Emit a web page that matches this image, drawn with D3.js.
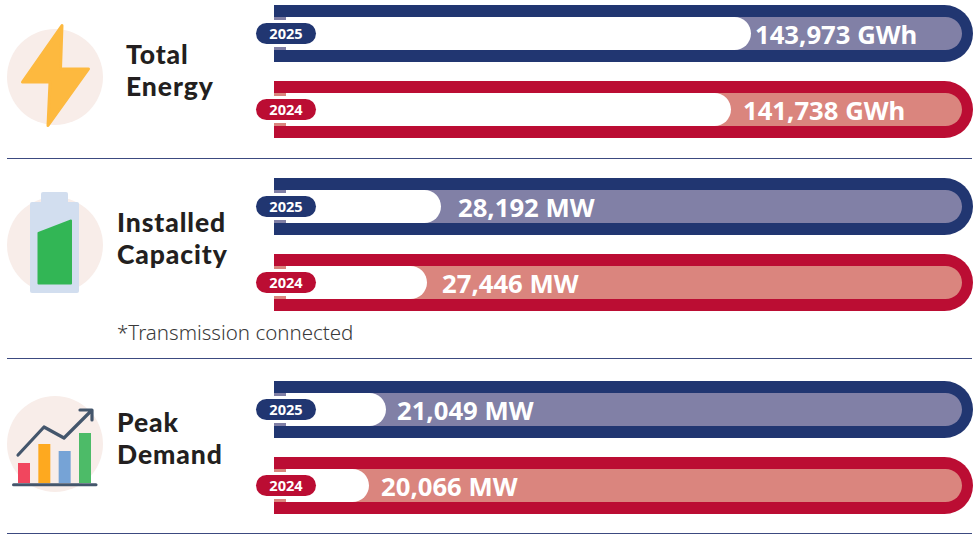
<!DOCTYPE html>
<html>
<head>
<meta charset="utf-8">
<style>
  html, body { margin: 0; padding: 0; background: #fff; }
  svg { display: block; font-family: "Noto Sans", sans-serif; }
</style>
<script src="https://cdn.jsdelivr.net/npm/d3@7"></script>
</head>
<body>
<svg id="chart" width="980" height="534"></svg>
<script>
const panels = ["Total Energy", "Installed Capacity", "Peak Demand"];
const titleLines = [["Total", "Energy"], ["Installed", "Capacity"], ["Peak", "Demand"]];
const years = ["2025", "2024"];
const units = ["GWh", "MW", "MW"];
const values2025 = [143973, 28192, 21049];
const values2024 = [141738, 27446, 20066];
// the bars in the original do not start at zero, each panel has its own window
const baselines = [90670, 19290, 14570];
const axisMax = [168782, 56551, 55006];
const footnote = "*Transmission connected";
const iconBars = [20, 39, 32, 50];

const NAVY = "#213671", RED = "#bb0d33";
const NAVY_SOFT = "#8180a6", RED_SOFT = "#da857e";

const svg = d3.select("#chart");
const trackLeft = 274, trackRight = 973, trackH = 57, border = 12, borderRight = 11;

const panelTop = d3.scaleOrdinal().domain(panels).range([5, 178, 381]);
const rowY = d3.scalePoint().domain(years).range([0, 76]);
const dividers = [158, 358, 533];
const iconCy = [77, 245, 444];
const titleX = [126, 117, 117];
const titleY = [64, 232, 432];
const labelGap = [[4, 12], [17, 15], [11, 12]];

function rowHead(g, colour, soft, year) {
  // tabs either side of the year pill
  g.append("rect").attr("x", trackLeft).attr("y", border).attr("width", border).attr("height", 3).attr("fill", soft);
  g.append("rect").attr("x", trackLeft).attr("y", trackH - border - 3).attr("width", border).attr("height", 3).attr("fill", soft);
  g.append("rect").attr("x", 256).attr("y", trackH / 2 - 10.5).attr("width", 60).attr("height", 21).attr("rx", 10.5)
    .attr("fill", colour);
  g.append("text").attr("x", 286).attr("y", trackH / 2 + 5.3).attr("text-anchor", "middle")
    .attr("fill", "#fff").attr("font-size", 14.6).attr("font-weight", 700).text(year);
}

function track(g, colour, soft, endX) {
  const r = trackH / 2, ir = r - border;
  const innerEnd = trackRight - borderRight;
  // outer band: square at the left, round at the right
  g.append("path").attr("fill", colour)
    .attr("d", `M${trackLeft},0H${trackRight - r}A${r},${r} 0 0 1 ${trackRight - r},${trackH}H${trackLeft}Z`);
  // soft inside
  g.append("path").attr("fill", soft)
    .attr("d", `M${trackLeft},${border}H${innerEnd - ir}A${ir},${ir} 0 0 1 ${innerEnd - ir},${trackH - border}H${trackLeft}Z`);
  // white fill up to the value
  g.append("path").attr("fill", "#fff")
    .attr("d", `M${trackLeft},${border}H${endX - ir}A${ir},${ir} 0 0 1 ${endX - ir},${trackH - border}H${trackLeft}Z`);
}

panels.forEach((panel, i) => {
  const x = d3.scaleLinear().domain([baselines[i], axisMax[i]]).range([trackLeft, trackRight]);

  years.forEach((year, j) => {
    const v = (j === 0 ? values2025 : values2024)[i];
    const colour = j === 0 ? NAVY : RED;
    const soft = j === 0 ? NAVY_SOFT : RED_SOFT;
    const g = svg.append("g").attr("transform", `translate(0,${panelTop(panel) + rowY(year)})`);
    track(g, colour, soft, x(v));
    rowHead(g, colour, soft, year);
    g.append("text").attr("x", x(v) + labelGap[i][j]).attr("y", trackH / 2 + 10.5)
      .attr("fill", "#fff").attr("font-size", 25.7).attr("font-weight", 700)
      .text(`${d3.format(",")(v)} ${units[i]}`);
  });

  const t = svg.append("text").attr("fill", "#231f20").attr("font-size", 26.5).attr("font-weight", 900)
    .attr("letter-spacing", 0.9).style("font-family", "Lato, sans-serif");
  titleLines[i].forEach((line, l) => {
    t.append("tspan").attr("x", titleX[i]).attr("y", titleY[i] + l * 32).text(line);
  });

  svg.append("circle").attr("cx", 55).attr("cy", iconCy[i]).attr("r", 48).attr("fill", "#f8ede9");
});

svg.selectAll("line.divider").data(dividers).enter().append("line")
  .attr("class", "divider")
  .attr("x1", 7).attr("x2", 972).attr("y1", d => d + 0.5).attr("y2", d => d + 0.5)
  .attr("stroke", "#3c4a80").attr("stroke-width", 1);

svg.append("text").attr("x", 117).attr("y", 340).attr("fill", "#3a3a3a")
  .attr("font-size", 20.5).attr("font-weight", 300).text(footnote);

// icons
svg.append("path").attr("fill", "#fdb93f").attr("stroke", "#fdb93f").attr("stroke-width", 3).attr("stroke-linejoin", "round")
  .attr("d", "M62,25.5L22.5,82H50L48,125.5L88.5,69H60.5Z");

svg.append("rect").attr("x", 41).attr("y", 192).attr("width", 27).attr("height", 12).attr("rx", 2).attr("fill", "#d2deef");
svg.append("rect").attr("x", 30).attr("y", 202).attr("width", 49).attr("height", 91).attr("rx", 2).attr("fill", "#d2deef");
svg.append("path").attr("fill", "#32b655").attr("stroke", "#32b655").attr("stroke-width", 2).attr("stroke-linejoin", "round")
  .attr("d", "M38.5,233L71,220.5V283.5H38.5Z");

const chartColours = ["#f1465e", "#fea91f", "#76a3d6", "#4dbb68"];
const iconX = d3.scaleBand().domain(d3.range(4)).range([18, 91]).paddingInner(0.41);
const iconY = d3.scaleLinear().domain([0, 50]).range([483, 433]);
svg.selectAll("rect.icon-bar").data(iconBars).enter().append("rect")
  .attr("class", "icon-bar")
  .attr("x", (d, i) => iconX(i)).attr("width", iconX.bandwidth())
  .attr("y", d => iconY(d)).attr("height", d => iconY(0) - iconY(d))
  .attr("fill", (d, i) => chartColours[i]);
svg.append("line").attr("x1", 13.5).attr("x2", 96).attr("y1", 484.7).attr("y2", 484.7)
  .attr("stroke", "#44566c").attr("stroke-width", 3).attr("stroke-linecap", "round");
svg.append("path").attr("fill", "none").attr("stroke", "#44566c").attr("stroke-width", 3.2)
  .attr("stroke-linecap", "round").attr("stroke-linejoin", "round")
  .attr("d", "M18,455L44,427L64,438L91,411M80,410H92V420");
</script>
</body>
</html>
